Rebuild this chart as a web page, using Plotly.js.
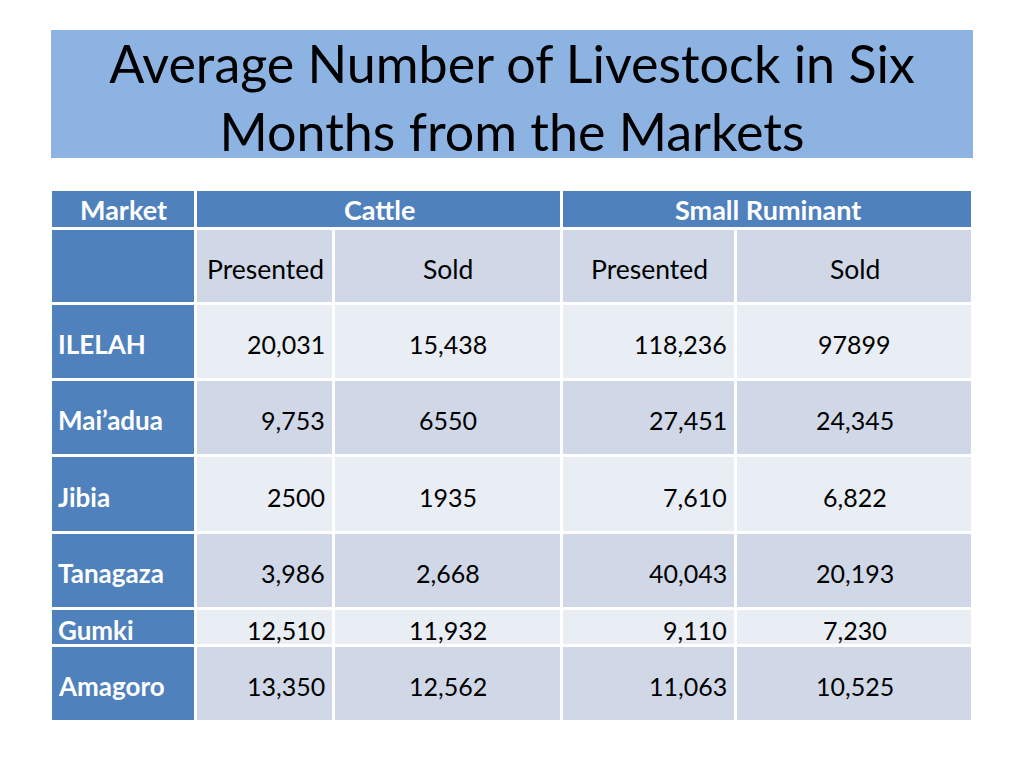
<!DOCTYPE html>
<html>
<head>
<meta charset="utf-8">
<script src="https://cdn.plot.ly/plotly-3.0.1.min.js"></script>
<style>html,body{margin:0;padding:0;background:#fff;}#chart{width:1024px;height:768px;}</style>
</head>
<body>
<div id="chart"></div>
<script>
// ---- data ----
const titleText = 'Average Number of Livestock in Six<br>Months from the Markets';
const marketHeader = 'Market';
const groups = ['Cattle', 'Small Ruminant'];
const subHeaders = ['Presented', 'Sold', 'Presented', 'Sold'];
const markets = ['ILELAH', 'Mai’adua', 'Jibia', 'Tanagaza', 'Gumki', 'Amagoro'];
const cattlePresented = ['20,031', '9,753', '2500', '3,986', '12,510', '13,350'];
const cattleSold = ['15,438', '6550', '1935', '2,668', '11,932', '12,562'];
const smallPresented = ['118,236', '27,451', '7,610', '40,043', '9,110', '11,063'];
const smallSold = ['97899', '24,345', '6,822', '20,193', '7,230', '10,525'];

// ---- layout geometry (sizes only) ----
const colW = [145, 138, 228, 174, 237];
const headH = 39;
const bodyRowH = [75, 76, 76, 77, 76, 37, 76];
const colAlign = ['left', 'right', 'center', 'right', 'center'];
const FONT = 'Lato, "Open Sans", sans-serif';
const BLUE = '#4F81BD', LIGHT = '#D0D8E8', LIGHTER = '#E9EDF4';

const colEdges = [0];
colW.forEach(w => colEdges.push(colEdges[colEdges.length - 1] + w));
const totalW = colEdges[colEdges.length - 1];
const rowEdges = [headH];
bodyRowH.forEach(h => rowEdges.push(rowEdges[rowEdges.length - 1] + h));
const totalH = rowEdges[rowEdges.length - 1];
const groupEdges = [0, colEdges[1], colEdges[3], colEdges[5]];

// body cell grid: row 0 = sub header, then markets
const seriesCols = [cattlePresented, cattleSold, smallPresented, smallSold];
const bodyText = [[''].concat(subHeaders)];
markets.forEach((m, i) => bodyText.push([m].concat(seriesCols.map(s => s[i]))));
// colour code: 0 lighter, 1 light, 2 blue
const bodyZ = bodyText.map((row, r) => row.map((_, c) => c === 0 ? 2 : (r % 2 === 0 ? 1 : 0)));

const cscale = [[0, LIGHTER], [0.5, LIGHT], [1, BLUE]];

const traces = [
  {
    type: 'heatmap', x: groupEdges, y: [0, headH], z: [[2, 2, 2]],
    zmin: 0, zmax: 2, colorscale: cscale, showscale: false,
    xgap: 3, ygap: 3, hoverinfo: 'skip'
  },
  {
    type: 'heatmap', x: colEdges, y: rowEdges, z: bodyZ,
    zmin: 0, zmax: 2, colorscale: cscale, showscale: false,
    xgap: 3, ygap: 3, hoverinfo: 'skip'
  }
];

const annotations = [];
const headerLabels = [marketHeader].concat(groups);
headerLabels.forEach((t, i) => {
  annotations.push({
    x: (groupEdges[i] + groupEdges[i + 1]) / 2, y: headH / 2, xref: 'x', yref: 'y',
    text: '<b>' + t + '</b>', showarrow: false, xanchor: 'center', yanchor: 'middle',
    font: {family: FONT, size: 27, color: '#ffffff'}
  });
});
bodyText.forEach((row, r) => {
  const yc = (rowEdges[r] + rowEdges[r + 1]) / 2;
  row.forEach((t, c) => {
    if (!t) return;
    const isHeadRow = r === 0;
    const align = isHeadRow ? 'center' : colAlign[c];
    let x, xshift = 0;
    if (align === 'left') { x = colEdges[c]; xshift = 5; }
    else if (align === 'right') { x = colEdges[c + 1]; xshift = -7; }
    else { x = (colEdges[c] + colEdges[c + 1]) / 2; }
    const first = c === 0;
    annotations.push({
      x: x, y: yc, xref: 'x', yref: 'y', xshift: xshift, yshift: -2,
      text: first ? '<b>' + t + '</b>' : t, showarrow: false,
      xanchor: align, yanchor: 'middle',
      font: {family: FONT, size: first ? 26 : (isHeadRow ? 26.5 : 25), color: first ? '#ffffff' : '#000000'}
    });
  });
});

const layout = {
  width: 1024, height: 768,
  margin: {l: 51, r: 51, t: 190, b: 46, pad: 0},
  paper_bgcolor: '#ffffff', plot_bgcolor: '#ffffff',
  showlegend: false,
  title: {
    text: titleText, x: 0.5, xanchor: 'center', xref: 'paper',
    y: 1 - 83 / 768, yref: 'container', yanchor: 'middle',
    font: {family: FONT, size: 52, color: '#000000'}
  },
  xaxis: {range: [0, totalW], visible: false, fixedrange: true},
  yaxis: {range: [totalH, 0], visible: false, fixedrange: true},
  shapes: [{
    type: 'rect', xref: 'paper', yref: 'paper', x0: 0, x1: 1,
    y0: (totalH + 32) / totalH, y1: (totalH + 160) / totalH,
    fillcolor: '#8DB3E2', line: {width: 0}, layer: 'below'
  }],
  annotations: annotations
};

Plotly.newPlot('chart', traces, layout, {displayModeBar: false, staticPlot: true});
</script>
</body>
</html>
